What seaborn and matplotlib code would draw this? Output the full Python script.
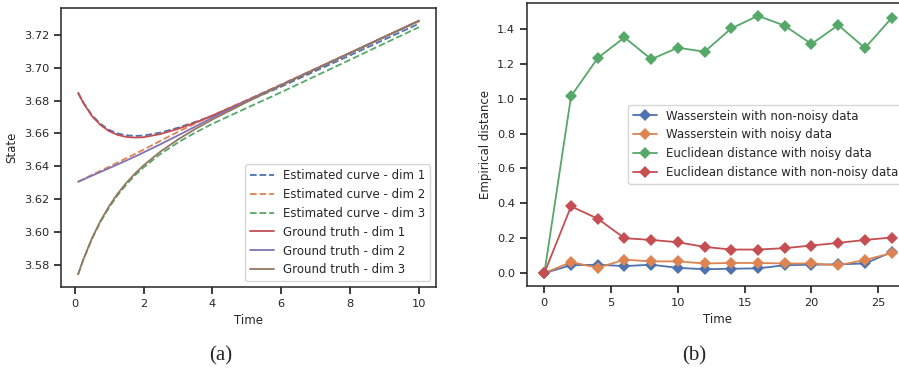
import numpy as np
import pandas as pd
import matplotlib
matplotlib.use("Agg")
import matplotlib.pyplot as plt
import seaborn as sns

# panel (a): state trajectories
t = [0.1, 0.25, 0.5, 0.75, 1.0, 1.25, 1.5, 1.75, 2.0, 2.5, 3.0, 3.5, 4.0, 5.0, 6.0, 7.0, 8.0, 9.0, 10.0]
est_dim1 = [3.6848, 3.6790, 3.6712, 3.6659, 3.6622, 3.6600, 3.6589, 3.6585, 3.6587, 3.6606, 3.6635, 3.6670,
            3.6708, 3.6796, 3.6886, 3.6982, 3.7077, 3.7174, 3.7270]
est_dim2 = [3.6305, 3.6321, 3.6347, 3.6372, 3.6397, 3.6423, 3.6449, 3.6475, 3.6501, 3.6556, 3.6610, 3.6661,
            3.6710, 3.6804, 3.6900, 3.6996, 3.7093, 3.7189, 3.7285]
est_dim3 = [3.5740, 3.5828, 3.5955, 3.6060, 3.6148, 3.6224, 3.6288, 3.6344, 3.6393, 3.6476, 3.6545, 3.6605,
            3.6659, 3.6756, 3.6852, 3.6951, 3.7050, 3.7150, 3.7249]
gt_dim1 = [3.6848, 3.6787, 3.6707, 3.6652, 3.6614, 3.6591, 3.6579, 3.6575, 3.6577, 3.6597, 3.6628, 3.6666,
           3.6709, 3.6801, 3.6896, 3.6994, 3.7092, 3.7190, 3.7288]
gt_dim2 = [3.6305, 3.6319, 3.6342, 3.6365, 3.6388, 3.6411, 3.6435, 3.6459, 3.6484, 3.6535, 3.6588, 3.6642,
           3.6697, 3.6798, 3.6896, 3.6994, 3.7092, 3.7190, 3.7288]
gt_dim3 = [3.5740, 3.5830, 3.5959, 3.6066, 3.6156, 3.6233, 3.6298, 3.6355, 3.6405, 3.6491, 3.6563, 3.6627,
           3.6685, 3.6792, 3.6894, 3.6993, 3.7091, 3.7190, 3.7288]

# panel (b): empirical distances
time_b = [0, 2, 4, 6, 8, 10, 12, 14, 16, 18, 20, 22, 24, 26]
wass_clean = [0.0, 0.045, 0.048, 0.040, 0.048, 0.030, 0.022, 0.025, 0.027, 0.045, 0.048, 0.050, 0.055, 0.120]
wass_noisy = [0.0, 0.063, 0.030, 0.077, 0.067, 0.067, 0.055, 0.058, 0.058, 0.055, 0.055, 0.045, 0.075, 0.115]
eucl_noisy = [0.0, 1.015, 1.234, 1.352, 1.227, 1.293, 1.270, 1.404, 1.476, 1.419, 1.314, 1.423, 1.291, 1.463]
eucl_clean = [0.0, 0.383, 0.312, 0.200, 0.190, 0.177, 0.150, 0.135, 0.135, 0.143, 0.158, 0.173, 0.190, 0.204]

sns.set_theme(style="ticks", palette="deep", rc={
    "font.size": 8.5, "axes.labelsize": 8.5, "xtick.labelsize": 8.2, "ytick.labelsize": 8.2,
    "legend.fontsize": 8.5, "xtick.major.size": 5, "ytick.major.size": 5,
    "axes.linewidth": 1.1})
pal = sns.color_palette("deep")

fig = plt.figure(figsize=(8.99, 3.68), dpi=100)
ax1 = fig.add_axes([0.0679, 0.220, 0.4171, 0.758])
ax2 = fig.add_axes([0.5862, 0.223, 0.4249, 0.769])

series_a = [
    ("Estimated curve - dim 1", est_dim1, pal[0], "--"),
    ("Estimated curve - dim 2", est_dim2, pal[1], "--"),
    ("Estimated curve - dim 3", est_dim3, pal[2], "--"),
    ("Ground truth - dim 1", gt_dim1, pal[3], "-"),
    ("Ground truth - dim 2", gt_dim2, pal[4], "-"),
    ("Ground truth - dim 3", gt_dim3, pal[5], "-"),
]
for lab, vals, col, ls in series_a:
    sns.lineplot(x=t, y=vals, ax=ax1, color=col, linestyle=ls, linewidth=1.3, label=lab)
ax1.set_xlabel("Time")
ax1.set_ylabel("State")
ax1.set_xticks([0, 2, 4, 6, 8, 10])
ax1.set_yticks([3.58, 3.60, 3.62, 3.64, 3.66, 3.68, 3.70, 3.72])
ax1.legend(loc="lower right")

series_b = [
    ("Wasserstein with non-noisy data", wass_clean, pal[0]),
    ("Wasserstein with noisy data", wass_noisy, pal[1]),
    ("Euclidean distance with noisy data", eucl_noisy, pal[2]),
    ("Euclidean distance with non-noisy data", eucl_clean, pal[3]),
]
for lab, vals, col in series_b:
    sns.lineplot(x=time_b, y=vals, ax=ax2, color=col, marker="D", markersize=6,
                 markeredgewidth=0, linewidth=1.3, label=lab)
ax2.set_xlabel("Time")
ax2.set_ylabel("Empirical distance")
ax2.set_xticks([0, 5, 10, 15, 20, 25])
ax2.legend(loc="center right")

for ax in (ax1, ax2):
    for s in ax.spines.values():
        s.set_visible(True)

fig.text(0.2458, 0.033, "(a)", family=["Liberation Serif", "DejaVu Serif"], fontsize=15, ha="center", va="center")
fig.text(0.7720, 0.033, "(b)", family=["Liberation Serif", "DejaVu Serif"], fontsize=15, ha="center", va="center")

fig.savefig("out.png", dpi=100)
